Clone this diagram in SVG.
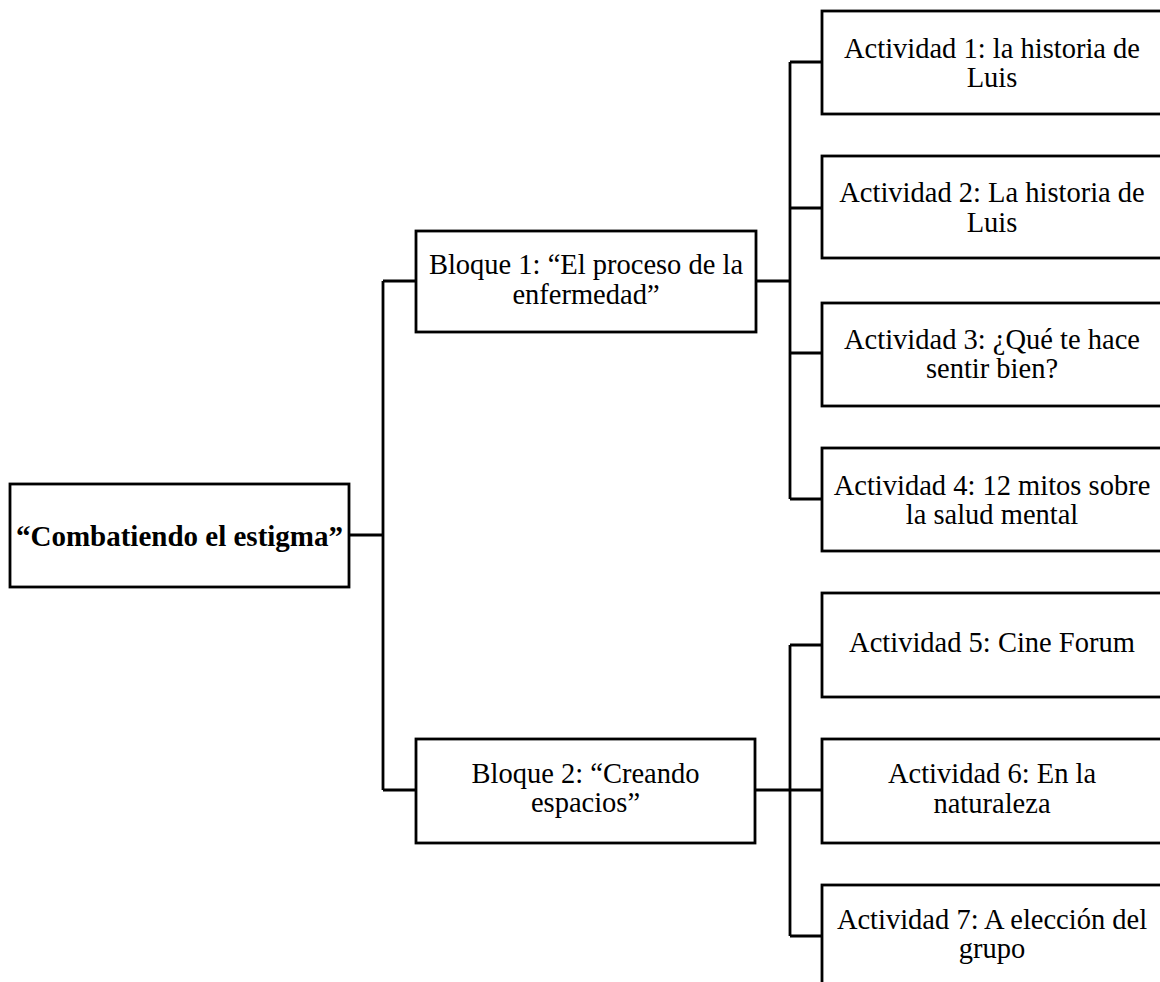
<svg xmlns="http://www.w3.org/2000/svg" width="1160" height="982" viewBox="0 0 1160 982">
<style>
  rect { fill: #ffffff; stroke: #000000; stroke-width: 2.8; }
  .c { fill: none; stroke: #000000; stroke-width: 2.8; }
  text { font-family: "Liberation Serif", "Times New Roman", serif; font-size: 28.5px; fill: #000000; text-anchor: middle; }
  .b { font-weight: bold; font-size: 29px; }
</style>
<rect x="0" y="0" width="1160" height="982" style="stroke:none;fill:#ffffff"/>
<g id="connectors">
  <path class="c" d="M349,535 H383 M383,281 V790 M383,281 H416 M383,790 H416"/>
  <path class="c" d="M756,281 H790 M790,62 V499 M790,62 H822 M790,208 H822 M790,353 H822 M790,499 H822"/>
  <path class="c" d="M755,790 H790 M790,645 V936 M790,645 H822 M790,790 H822 M790,936 H822"/>
</g>
<g id="root">
  <rect x="10" y="484" width="339" height="103"/>
  <text class="b" x="179.5" y="546">“Combatiendo el estigma”</text>
</g>
<g id="bloque1">
  <rect x="416" y="231" width="340" height="101"/>
  <text x="586" y="274">Bloque 1: “El proceso de la</text>
  <text x="586" y="304">enfermedad”</text>
</g>
<g id="bloque2">
  <rect x="416" y="739" width="339" height="104"/>
  <text x="585.5" y="783">Bloque 2: “Creando</text>
  <text x="585.5" y="812">espacios”</text>
</g>
<g id="act1">
  <rect x="822" y="11" width="345" height="103"/>
  <text x="992" y="58">Actividad 1: la historia de</text>
  <text x="992" y="87">Luis</text>
</g>
<g id="act2">
  <rect x="822" y="156" width="345" height="102"/>
  <text x="992" y="202">Actividad 2: La historia de</text>
  <text x="992" y="232">Luis</text>
</g>
<g id="act3">
  <rect x="822" y="303" width="345" height="103"/>
  <text x="992" y="349">Actividad 3: ¿Qué te hace</text>
  <text x="992" y="378">sentir bien?</text>
</g>
<g id="act4">
  <rect x="822" y="448" width="345" height="103"/>
  <text x="992" y="495">Actividad 4: 12 mitos sobre</text>
  <text x="992" y="524">la salud mental</text>
</g>
<g id="act5">
  <rect x="822" y="593" width="345" height="104"/>
  <text x="992" y="652">Actividad 5: Cine Forum</text>
</g>
<g id="act6">
  <rect x="822" y="739" width="345" height="104"/>
  <text x="992" y="783">Actividad 6: En la</text>
  <text x="992" y="813">naturaleza</text>
</g>
<g id="act7">
  <rect x="822" y="885" width="345" height="110"/>
  <text x="992" y="929">Actividad 7: A elección del</text>
  <text x="992" y="958">grupo</text>
</g>
</svg>
